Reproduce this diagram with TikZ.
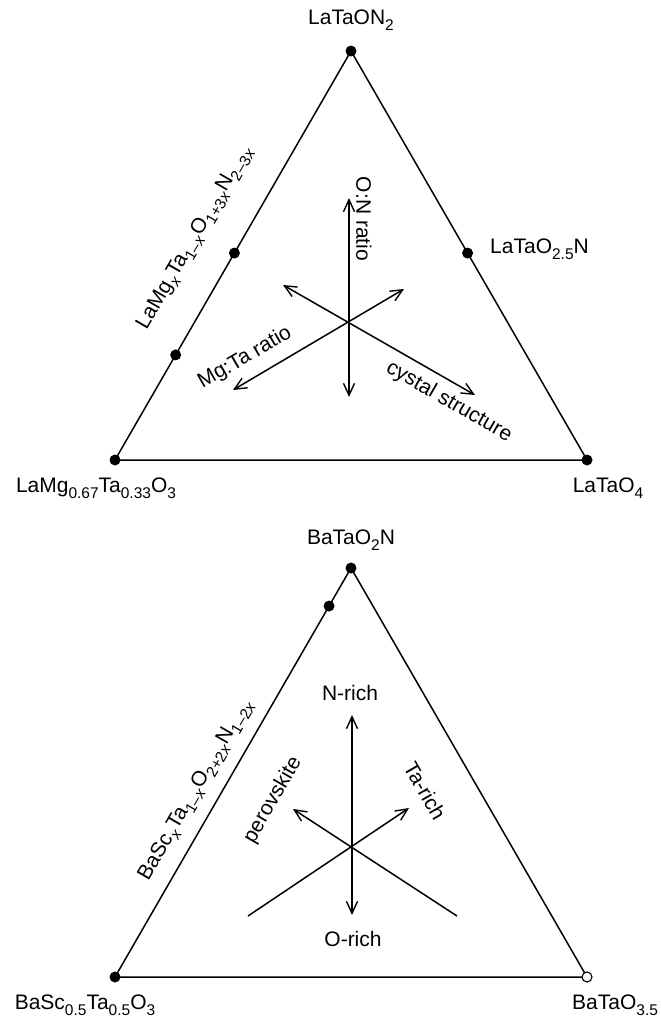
\documentclass[tikz,border=0pt]{standalone}
\usepackage{fontspec}
\setmainfont{Liberation Sans}
\usetikzlibrary{arrows.meta,calc}
\newcommand\sbs[1]{\raisebox{-0.28em}{\fontsize{15.5}{18}\selectfont #1}}
\newcommand\ix{\textit{x}}
\begin{document}
\begin{tikzpicture}[x=1pt,y=-1pt,
  edge/.style={line width=1.5pt,line join=round},
  dot/.style={circle,fill=black,inner sep=0pt,minimum size=11pt},
  odot/.style={circle,draw=black,fill=white,line width=1.1pt,inner sep=0pt,minimum size=10pt},
  lbl/.style={font=\fontsize{21}{25}\selectfont,inner sep=0pt,text=black},
  tip/.tip={Straight Barb[length=12pt,width=11pt,line width=1.4pt]},
  darr/.style={line width=1.5pt,tip-tip},
  sarr/.style={line width=1.5pt,-tip},
]
\useasboundingbox (0,0) rectangle (661,1018);

% ---------- top triangle ----------
\coordinate (tA) at (351,51);
\coordinate (tB) at (115,460);
\coordinate (tC) at (587,460);
\coordinate (tL1) at ($(tB)!0.506!(tA)$);
\coordinate (tL2) at ($(tB)!0.257!(tA)$);
\coordinate (tR1) at ($(tC)!0.506!(tA)$);
\draw[edge] (tA) -- (tB) -- (tC) -- cycle;
\node[dot] (dA) at (tA) {};
\node[dot] (dB) at (tB) {};
\node[dot] (dC) at (tC) {};
\node[dot] (dL1) at (tL1) {};
\node[dot] (dL2) at (tL2) {};
\node[dot] (dR1) at (tR1) {};

\coordinate (tO) at (349,323);
\coordinate (tN) at (349,198);
\coordinate (tS) at (349,397);
\coordinate (tUL) at (283,285);
\coordinate (tUR) at (404,289);
\coordinate (tLL) at (233,390);
\coordinate (tLR) at (475,395);
\draw[darr] (tS) -- (tN);
\draw[darr] (tUL) -- (tLR);
\draw[darr] (tLL) -- (tUR);

\node[lbl] (lA) at (351,20) {LaTaON\sbs{2}};
\node[lbl,anchor=west] (lR1) at (490,249) {LaTaO\sbs{2.5}N};
\node[lbl] (lB) at (96,488) {LaMg\sbs{0.67}Ta\sbs{0.33}O\sbs{3}};
\node[lbl] (lC) at (608,488) {LaTaO\sbs{4}};
\node[lbl,rotate=60] (lside) at (195,238) {LaMg\sbs{\ix}Ta\sbs{1\textendash\ix}O\sbs{1+3\ix}N\sbs{2\textendash3\ix}};
\node[lbl,rotate=-90] (lON) at (364,219) {O:N ratio};
\node[lbl,rotate=30] (lMg) at (245,358) {Mg:Ta ratio};
\node[lbl,rotate=-30] (lcs) at (449,402) {cystal structure};

% ---------- bottom triangle ----------
\coordinate (bA) at (351,568);
\coordinate (bB) at (115,977);
\coordinate (bC) at (587,977);
\coordinate (bL1) at ($(bB)!0.907!(bA)$);
\draw[edge] (bA) -- (bB) -- (bC) -- cycle;
\node[dot] (eA) at (bA) {};
\node[dot] (eB) at (bB) {};
\node[odot] (eC) at (bC) {};
\node[dot] (eL1) at (bL1) {};

\coordinate (bO) at (352,845);
\coordinate (bN) at (352,715);
\coordinate (bS) at (352,915);
\coordinate (bUL) at (293,809);
\coordinate (bUR) at (409,808);
\coordinate (bLL) at (248,916);
\coordinate (bLR) at (457,916);
\draw[darr] (bS) -- (bN);
\draw[sarr] (bLR) -- (bUL);
\draw[sarr] (bLL) -- (bUR);

\node[lbl] (mA) at (351,540) {BaTaO\sbs{2}N};
\node[lbl] (mB) at (85,1005) {BaSc\sbs{0.5}Ta\sbs{0.5}O\sbs{3}};
\node[lbl,anchor=west] (mC) at (572,1005) {BaTaO\sbs{3.5}};
\node[lbl,rotate=60] (mside) at (196,790) {BaSc\sbs{\ix}Ta\sbs{1\textendash\ix}O\sbs{2+2\ix}N\sbs{1\textendash2\ix}};
\node[lbl] (mN) at (350,693) {N-rich};
\node[lbl] (mS) at (353,939) {O-rich};
\node[lbl,rotate=60] (mper) at (273,800) {perovskite};
\node[lbl,rotate=-60] (mTa) at (425,791) {Ta-rich};
\end{tikzpicture}
\end{document}
